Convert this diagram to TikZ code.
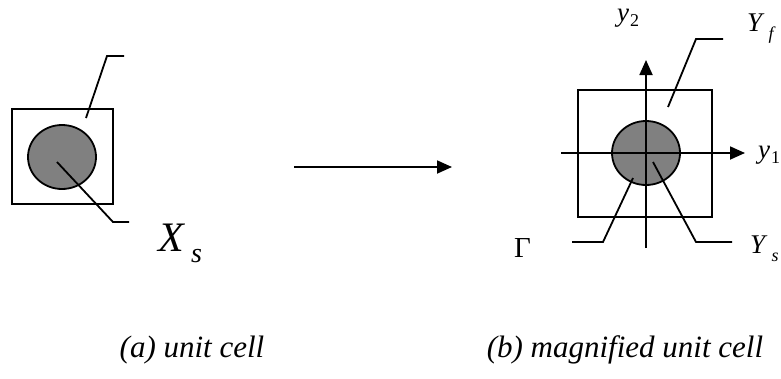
\documentclass[tikz,border=0pt]{standalone}
\usepackage{fontspec}
\setmainfont{Liberation Serif}[ItalicFont={Liberation Serif Italic}]
\usetikzlibrary{arrows.meta}

\tikzset{
	cell/.style={line width=1.8pt},
	lead/.style={line width=1.8pt},
	axis/.style={line width=1.8pt, -{Triangle[length=15pt,width=13pt]}},
	lbl/.style={anchor=base west, inner sep=0pt, font=\fontsize{27}{27}\selectfont},
	captext/.style={anchor=base, inner sep=0pt, font=\fontsize{31}{31}\selectfont\itshape}
}

\newcommand{\sublbl}[4]{#1\kern#3pt\raisebox{-#4pt}{\fontsize{18}{18}\selectfont #2}}

\begin{document}
\begin{tikzpicture}[x=1pt, y=-1pt]

	\useasboundingbox (0,0) rectangle (781,378);

	% (a) unit cell
	\coordinate (A) at (62,157);

	\draw[cell] (12,109) rectangle (113,204);
	\draw[cell, fill=gray] (A) ellipse (34 and 32);

	\coordinate (fa) at (86,118);
	\coordinate (fb) at (107,56);
	\coordinate (fc) at (124,56);
	\draw[lead] (fa) -- (fb) -- (fc);

	\coordinate (sa) at (57,162);
	\coordinate (sb) at (113,222);
	\coordinate (sc) at (129,222);
	\draw[lead] (sa) -- (sb) -- (sc);

	\node[lbl, font=\fontsize{42}{42}\selectfont] (Xs) at (158,251)
		{\textit{X}\kern6pt\raisebox{-11pt}{\fontsize{28}{28}\selectfont\textit{s}}};

	% map
	\coordinate (ma) at (294,167);
	\coordinate (mb) at (452,167);
	\draw[axis] (ma) -- (mb);

	% (b) magnified unit cell
	\coordinate (B) at (646,153);

	\draw[cell] (578,90) rectangle (712,217);
	\draw[cell, fill=gray] (B) ellipse (34 and 32);

	\coordinate (h0) at (561,153);
	\coordinate (h1) at (745,153);
	\coordinate (v0) at (646,248);
	\coordinate (v1) at (646,60);
	\draw[axis] (h0) -- (h1);
	\draw[axis] (v0) -- (v1);

	\coordinate (ya) at (668,107);
	\coordinate (yb) at (696,39);
	\coordinate (yc) at (723,39);
	\draw[lead] (ya) -- (yb) -- (yc);

	\coordinate (ga) at (633,178);
	\coordinate (gb) at (603,242);
	\coordinate (gc) at (572,242);
	\draw[lead] (ga) -- (gb) -- (gc);

	\coordinate (ka) at (653,162);
	\coordinate (kb) at (696,242);
	\coordinate (kc) at (732,242);
	\draw[lead] (ka) -- (kb) -- (kc);

	\node[lbl] (y2) at (617,21) {\sublbl{\textit{y}}{2}{1}{5}};
	\node[lbl] (y1) at (758,158) {\sublbl{\textit{y}}{1}{1}{5}};
	\node[lbl] (Yf) at (747,31) {\sublbl{\textit{Y}}{\textit{f}}{4}{8}};
	\node[lbl] (Ys) at (750,253) {\sublbl{\textit{Y}}{\textit{s}}{4}{8}};
	\node[lbl, font=\fontsize{29}{29}\selectfont] (G) at (514,257) {Γ};

	\node[captext] (capa) at (192,357) {(a) unit cell};
	\node[captext] (capb) at (625,357) {(b) magnified unit cell};

\end{tikzpicture}
\end{document}
